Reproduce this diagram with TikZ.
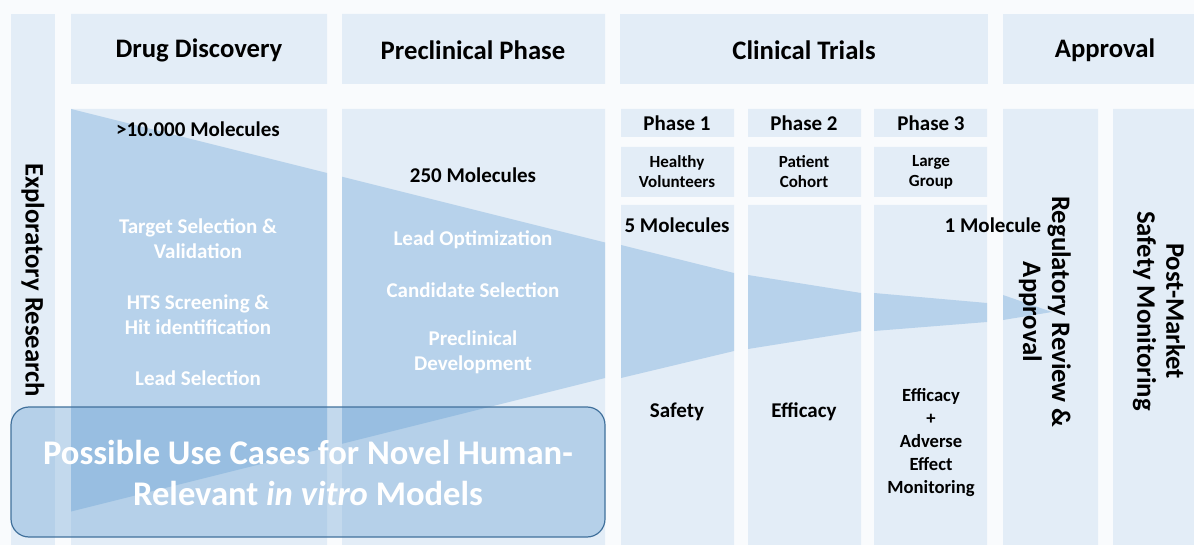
\documentclass[tikz,border=0pt]{standalone}
\usepackage{fontspec}
\setmainfont{Carlito}
\definecolor{bg}{HTML}{F9FBFD}
\definecolor{panel}{HTML}{E3EDF7}
\definecolor{funnel}{HTML}{B7D2EB}
\definecolor{boxfill}{HTML}{609BD0}
\definecolor{boxline}{HTML}{41719C}
\begin{document}
\begin{tikzpicture}[
  x=1pt, y=-1pt,
  panel/.style={fill=panel},
  hdr/.style={font=\fontsize{26.7}{29}\selectfont\bfseries, align=center},
  txt/.style={font=\fontsize{21}{25}\selectfont\bfseries, align=center},
  sub/.style={font=\fontsize{17}{20}\selectfont\bfseries, align=center},
  stage/.style={txt, text=white},
  vert/.style={hdr, rotate=-90}]
\useasboundingbox[fill=bg] (0,0) rectangle (1194,545);
%% column panels
\fill[panel] (11,14) rectangle (55,545);
\fill[panel] (71,14) rectangle (327,84) (71,109) rectangle (327,545);
\fill[panel] (342,14) rectangle (605,84) (342,109) rectangle (605,545);
\fill[panel] (620,14) rectangle (988,84);
\foreach \xa/\xb in {621/734, 748/861, 874/987}
  \fill[panel] (\xa,109) rectangle (\xb,137) (\xa,147) rectangle (\xb,197)
    (\xa,205) rectangle (\xb,545);
\fill[panel] (1003,14) rectangle (1194,84);
\fill[panel] (1003,109) rectangle (1098,545) (1113,109) rectangle (1194,545);
%% attrition funnel, cut to the panels
\begin{scope}
\clip (71,109) rectangle (327,545) (342,109) rectangle (605,545)
  (621,205) rectangle (734,545) (748,205) rectangle (861,545)
  (874,205) rectangle (987,545) (1003,109) rectangle (1098,545);
\fill[funnel] (71,109) -- (605,242.5) -- (621,245) -- (734,273) -- (748,275)
  -- (861,293) -- (874,293) -- (987,303) -- (1003,295) -- (1052,312)
  -- (1003,320) -- (987,322) -- (874,331) -- (861,331) -- (748,349)
  -- (734,351) -- (621,378) -- (605,378) -- (71,511.5) -- cycle;
\end{scope}
%% headers
\node[hdr] (dd) at (199,50) {Drug Discovery};
\node[hdr] (pre) at (473,50) {Preclinical Phase};
\node[hdr] (ct) at (804,50) {Clinical Trials};
\node[hdr] (appr) at (1105,50) {Approval};
\node[txt] (ph1) at (677,123) {Phase 1};
\node[txt] (ph2) at (804,123) {Phase 2};
\node[txt] (ph3) at (931,123) {Phase 3};
\node[sub] (grp1) at (677,172) {Healthy\\Volunteers};
\node[sub] (grp2) at (804,172) {Patient\\Cohort};
\node[sub] (grp3) at (931,172) {Large\\Group};
%% molecule counts
\node[txt] (m1) at (198,129) {>10.000 Molecules};
\node[txt] (m2) at (473,175) {250 Molecules};
\node[txt] (m3) at (677,225) {5 Molecules};
\node[txt] (m4) at (993,225) {1 Molecule};
%% stages
\node[stage] (tsel) at (198,239) {Target Selection \&\\Validation};
\node[stage] (hts) at (198,315) {HTS Screening \&\\Hit identification};
\node[stage] (lsel) at (198,378) {Lead Selection};
\node[stage] (lopt) at (473,240) {Lead Optimization};
\node[stage] (csel) at (473,290) {Candidate Selection};
\node[stage] (pdev) at (473,352) {Preclinical\\Development};
\node[txt] (safe) at (677,412) {Safety};
\node[txt] (eff) at (804,412) {Efficacy};
\node[sub, font=\fontsize{18.6}{23}\selectfont\bfseries] (adv) at (931,443)
  {Efficacy\\+\\Adverse\\Effect\\Monitoring};
\node[vert] (explo) at (33,280) {Exploratory Research};
\node[vert] (review) at (1045,312) {Regulatory Review \&\\Approval};
\node[vert] (post) at (1159,311) {Post-Market\\Safety Monitoring};
%% use case box
\draw[draw=boxline, fill=boxfill, fill opacity=0.35, rounded corners=18,
  line width=1.2pt] (11,407) rectangle (605,537);
\node[font=\fontsize{34.6}{41}\selectfont\bfseries, text=white, align=center]
  (cases) at (308,473) {Possible Use Cases for Novel Human-\\Relevant \textit{in vitro} Models};
\end{tikzpicture}
\end{document}
